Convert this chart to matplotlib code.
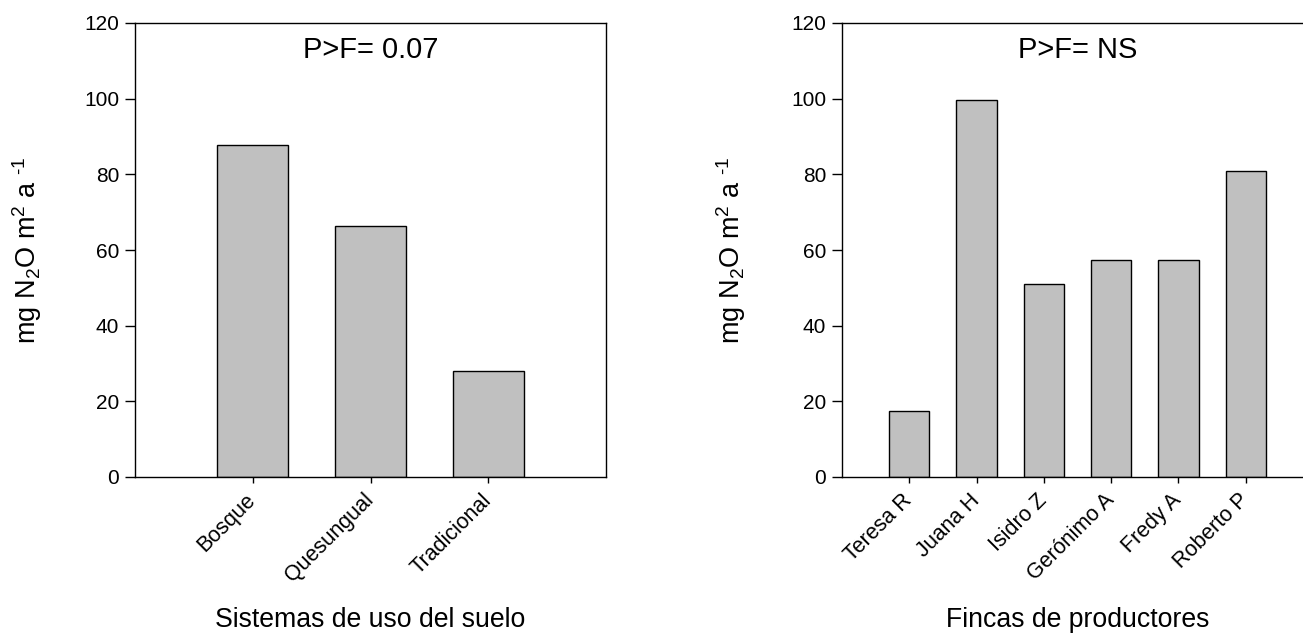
import matplotlib
matplotlib.use('Agg')
from matplotlib import pyplot as plt

plt.rcParams['font.family'] = ['Liberation Sans', 'DejaVu Sans']
plt.rcParams['mathtext.fontset'] = 'custom'
plt.rcParams['mathtext.rm'] = 'Liberation Sans'
plt.rcParams['mathtext.it'] = 'Liberation Sans'

# datos
sistemas = ['Bosque', 'Quesungual', 'Tradicional']
n2o_sistemas = [87.8, 66.4, 28.0]

fincas = ['Teresa R', 'Juana H', 'Isidro Z', 'Gerónimo A', 'Fredy A', 'Roberto P']
n2o_fincas = [17.5, 99.6, 51.0, 57.4, 57.4, 81.0]

y_ticks = [0, 20, 40, 60, 80, 100, 120]
ylabel = r'mg N$_2$O m$^2$ a $^{\text{-}1}$'

fig = plt.figure(figsize=(13.03, 6.37), dpi=100)
ax1 = fig.add_axes([135/1303, 160/637, 471/1303, 454/637])
ax2 = fig.add_axes([842/1303, 160/637, 471/1303, 454/637])


def panel(ax, cats, vals, stat, xlabel, ylab_x):
    x = list(range(1, len(cats) + 1))
    ax.bar(x, vals, width=0.6, color='#c0c0c0', edgecolor='black', linewidth=1.0)
    ax.set_xlim(0, len(cats) + 1)
    ax.set_ylim(0, 120)
    ax.set_yticks(y_ticks)
    ax.set_xticks(x)
    ax.set_xticklabels(cats, rotation=45, ha='right', va='center',
                       rotation_mode='anchor', fontsize=15.5)
    ax.tick_params(axis='y', direction='out', length=7.5, width=1, labelsize=15, pad=4)
    ax.tick_params(axis='x', direction='out', length=4.5, width=1, pad=10)
    for s in ax.spines.values():
        s.set_linewidth(1.0)
    ax.text(0.5, 0.94, stat, transform=ax.transAxes, ha='center', va='center', fontsize=21)
    ax.set_xlabel(xlabel, fontsize=19.2, va='center')
    ax.xaxis.set_label_coords(0.5, -0.315)
    ax.set_ylabel(ylabel, fontsize=19.5, va='center')
    ax.yaxis.set_label_coords(ylab_x, 0.5)


panel(ax1, sistemas, n2o_sistemas, 'P>F= 0.07', 'Sistemas de uso del suelo', -0.229)
panel(ax2, fincas, n2o_fincas, 'P>F= NS', 'Fincas de productores', -0.236)

fig.savefig('out.png', dpi=100)
